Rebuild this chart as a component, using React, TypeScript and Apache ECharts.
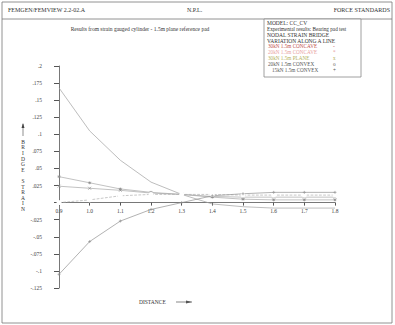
import React, { useEffect, useRef } from "react";
import * as echarts from "echarts";

const distances = [0.9, 1.0, 1.1, 1.2, 1.3, 1.4, 1.5, 1.6, 1.7, 1.8];
const concave30 = [0.168, 0.105, 0.062, 0.030, 0.012, -0.002, -0.006, -0.008, -0.008, -0.008];
const concave20 = [0.038, 0.029, 0.020, 0.015, 0.012, 0.008, 0.005, 0.004, 0.004, 0.004];
const plane30 = [0.024, 0.021, 0.018, 0.014, 0.012, 0.009, 0.008, 0.008, 0.008, 0.008];
const convex20 = [0.0, 0.004, 0.010, 0.012, 0.012, 0.012, 0.011, 0.011, 0.011, 0.011];
const convex15 = [-0.105, -0.057, -0.027, -0.010, 0.0, 0.010, 0.013, 0.015, 0.015, 0.015];

const seriesNames = [
  "30kN 1.5m CONCAVE",
  "20kN 1.5m CONCAVE",
  "30kN 1.5m PLANE",
  "20kN 1.5m CONVEX",
  "15kN 1.5m CONVEX",
];
const seriesMarks = ["-", "*", "x", "o", "+"];
const legendColors = ["#c0504d", "#e8a0a0", "#b4b060", "#555", "#555"];
const lineColors = ["#a0a0a0", "#a8a8a8", "#a8a8a8", "#b0b0b0", "#909090"];
const seriesData = [concave30, concave20, plane30, convex20, convex15];
const seriesSymbols = [
  "path://M0,5L10,5",
  "path://M0,5L10,5M5,0L5,10M1.5,1.5L8.5,8.5M8.5,1.5L1.5,8.5",
  "path://M0,0L10,10M10,0L0,10",
  "emptyCircle",
  "path://M0,5L10,5M5,0L5,10",
];

const FONT = "Liberation Serif";

export default function App() {
  const ref = useRef<HTMLDivElement>(null);
  useEffect(() => {
    if (!ref.current) return;
    const chart = echarts.init(ref.current, null, { renderer: "svg" });
    const txt = (x: number, y: number, text: string, extra: any = {}) => ({
      type: "text",
      x,
      y,
      style: { text, fontFamily: FONT, fontSize: 6, fill: "#333", ...extra },
    });
    const graphic: any[] = [
      { type: "rect", shape: { x: 2, y: 2, width: 390, height: 321 }, style: { fill: "none", stroke: "#777", lineWidth: 0.8 } },
      { type: "line", shape: { x1: 2, y1: 19, x2: 392, y2: 19 }, style: { stroke: "#777", lineWidth: 0.8 } },
      txt(8, 7, "FEMGEN/FEMVIEW 2.2-02.A"),
      txt(187, 7, "N.P.L."),
      txt(390, 7, "FORCE STANDARDS", { align: "right" }),
      txt(140, 26, "Results from strain gauged cylinder - 1.5m plane reference pad", { align: "center", fontSize: 5.5 }),
      { type: "rect", shape: { x: 264, y: 19, width: 97, height: 58 }, style: { fill: "#fff", stroke: "#888", lineWidth: 0.8 } },
      txt(267, 20, "MODEL: CC_CV", { fontSize: 5.5 }),
      txt(267, 26, "Experimental results: Bearing pad test", { fontSize: 5.2 }),
      txt(267, 31.5, "NODAL STRAIN BRIDGE", { fontSize: 5.5 }),
      txt(267, 37.5, "VARIATION ALONG A LINE", { fontSize: 5.5 }),
      { type: "line", shape: { x1: 23, y1: 124, x2: 23, y2: 136 }, style: { stroke: "#444", lineWidth: 0.6 } },
      { type: "polygon", shape: { points: [[21.5, 128], [23, 123], [24.5, 128]] }, style: { fill: "#444" } },
      txt(23, 139, "B\nR\nI\nD\nG\nE\n\nS\nT\nR\nA\nI\nN", { fontSize: 5.5, lineHeight: 5.6, align: "center" }),
      txt(139, 299, "DISTANCE", { fontSize: 5.5 }),
      { type: "line", shape: { x1: 176, y1: 302, x2: 192, y2: 302 }, style: { stroke: "#555", lineWidth: 0.7 } },
      { type: "polygon", shape: { points: [[186, 300.5], [192, 302], [186, 303.5]] }, style: { fill: "#555" } },
    ];
    seriesNames.forEach((n, i) => {
      graphic.push(txt(i === 4 ? 272 : 268, 43.5 + i * 6, n, { fontSize: 5.2, fill: legendColors[i] }));
      graphic.push(txt(333, 43.5 + i * 6, seriesMarks[i], { fontSize: 5.2, fill: legendColors[i] }));
    });

    const option: any = {
      animation: false,
      backgroundColor: "#fff",
      grid: { left: 59, top: 66, width: 276, height: 222 },
      xAxis: {
        type: "value",
        min: 0.9,
        max: 1.8,
        interval: 0.1,
        offset: -85.4,
        axisLine: { onZero: false, lineStyle: { color: "#555", width: 0.8 } },
        axisTick: { inside: false, length: 3, lineStyle: { color: "#555" } },
        axisLabel: {
          fontFamily: FONT,
          fontSize: 5.5,
          color: "#444",
          margin: 5,
          formatter: (v: number) => v.toFixed(1),
        },
        splitLine: { show: false },
      },
      yAxis: {
        type: "value",
        min: -0.125,
        max: 0.2,
        interval: 0.025,
        axisLine: { show: true, onZero: false, lineStyle: { color: "#555", width: 0.8 } },
        axisTick: { show: true, length: 5, lineStyle: { color: "#555" } },
        axisLabel: {
          fontFamily: FONT,
          fontSize: 5.5,
          color: "#444",
          margin: 17,
          formatter: (v: number) => {
            if (Math.abs(v) < 1e-9) return "";
            const s = String(Math.round(v * 1000) / 1000);
            return s.replace("0.", ".");
          },
        },
        splitLine: { show: false },
      },
      series: seriesData.map((d, i) => ({
        name: seriesNames[i],
        type: "line",
        data: distances.map((x, j) => [x, d[j]]),
        symbol: seriesSymbols[i],
        symbolSize: 3,
        lineStyle: { color: lineColors[i], width: 0.7, type: i === 3 ? "dashed" : "solid" },
        itemStyle: { color: i === 3 ? "#fff" : "none", borderColor: "#888", borderWidth: 0.6 },
        silent: true,
      })),
      graphic,
    };
    chart.setOption(option);
    return () => chart.dispose();
  }, []);
  return (
    <div
      ref={ref}
      style={{ position: "fixed", left: 0, top: 0, width: 395, height: 325 }}
    />
  );
}
